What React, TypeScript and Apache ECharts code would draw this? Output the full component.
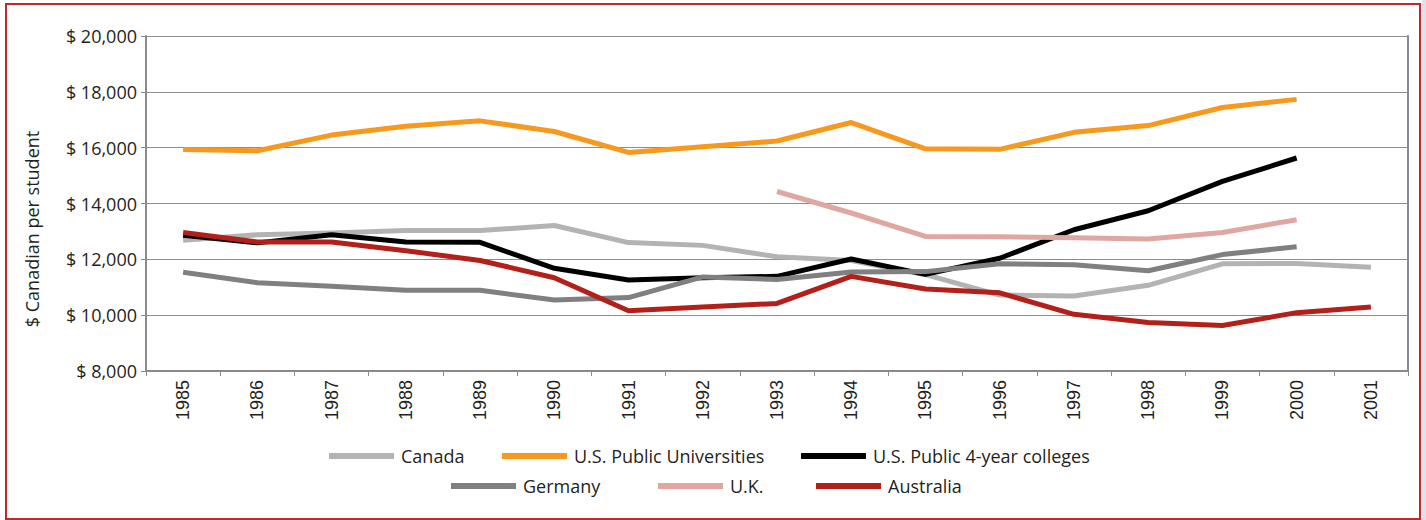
import React, { useEffect, useRef } from "react";
import * as echarts from "echarts";

const years = ["1985","1986","1987","1988","1989","1990","1991","1992","1993","1994","1995","1996","1997","1998","1999","2000","2001"];
const yTicks = [8000, 10000, 12000, 14000, 16000, 18000, 20000];
const yTitle = "$ Canadian per student";

const canada = [12680, 12880, 12940, 13030, 13030, 13210, 12600, 12500, 12090, 11960, 11450, 10720, 10690, 11070, 11840, 11850, 11720];
const usUniversities = [15930, 15890, 16450, 16770, 16960, 16580, 15830, 16030, 16240, 16900, 15960, 15940, 16550, 16790, 17440, 17730, null];
const us4Year = [12860, 12590, 12880, 12620, 12610, 11680, 11260, 11340, 11390, 12010, 11460, 12040, 13060, 13740, 14790, 15630, null];
const germany = [11540, 11160, 11040, 10890, 10890, 10540, 10630, 11370, 11280, 11550, 11560, 11840, 11810, 11590, 12170, 12450, null];
const uk = [null, null, null, null, null, null, null, null, 14430, 13660, 12820, 12810, 12770, 12730, 12960, 13420, null];
const australia = [12960, 12620, 12620, 12310, 11960, 11340, 10160, 10290, 10420, 11390, 10940, 10800, 10030, 9740, 9630, 10090, 10290];

const seriesNames = ["Canada", "U.S. Public Universities", "U.S. Public 4-year colleges", "Germany", "U.K.", "Australia"];
const seriesData = [canada, usUniversities, us4Year, germany, uk, australia];
const seriesColors = ["#b3b3b3", "#f7981f", "#000000", "#808080", "#e0a7a2", "#b3201a"];

const legendPos = [
  { left: 329, top: 447 },
  { left: 502, top: 447 },
  { left: 801, top: 447 },
  { left: 451, top: 477 },
  { left: 658, top: 477 },
  { left: 816, top: 477 },
];

export default function App() {
  const ref = useRef<HTMLDivElement>(null);
  useEffect(() => {
    if (!ref.current) return;
    const chart = echarts.init(ref.current, null, { renderer: "svg" });
    const axisColor = "#8a8a8a";
    const textColor = "#231f20";
    chart.setOption({
      animation: false,
      backgroundColor: "#ffffff",
      grid: { left: 146, right: 18, top: 36, bottom: 149, containLabel: false },
      xAxis: {
        type: "category",
        data: years,
        boundaryGap: true,
        axisLine: { show: true, lineStyle: { color: axisColor, width: 2 } },
        axisTick: { show: true, length: 5, lineStyle: { color: axisColor, width: 1 } },
        axisLabel: {
          rotate: 90,
          margin: 9,
          fontFamily: "Liberation Sans, Arial, sans-serif",
          fontSize: 18,
          color: textColor,
        },
        splitLine: { show: false },
      },
      yAxis: [
        {
          type: "value",
          min: yTicks[0],
          max: yTicks[yTicks.length - 1],
          interval: yTicks[1] - yTicks[0],
          axisLine: { show: true, lineStyle: { color: axisColor, width: 2 } },
          axisTick: { show: true, length: 5, lineStyle: { color: axisColor, width: 1 } },
          axisLabel: {
            margin: 9,
            fontFamily: "Open Sans",
            fontSize: 18,
            color: textColor,
            formatter: (v: number) => "$ " + v.toLocaleString("en-US"),
          },
          splitLine: { show: true, lineStyle: { color: "#8c8c8c", width: 1 } },
        },
        {
          type: "value",
          position: "right",
          min: yTicks[0],
          max: yTicks[yTicks.length - 1],
          interval: yTicks[1] - yTicks[0],
          axisLine: { show: true, lineStyle: { color: axisColor, width: 2 } },
          axisTick: { show: false },
          axisLabel: { show: false },
          splitLine: { show: false },
        },
      ],
      legend: seriesNames.map((name, i) => ({
        data: [name],
        left: legendPos[i].left,
        top: legendPos[i].top,
        padding: 0,
        itemWidth: 65,
        itemHeight: 6,
        icon: "rect",
        selectedMode: false,
        textStyle: {
          fontFamily: "Open Sans",
          fontSize: 18,
          color: textColor,
          padding: [0, 0, 0, 2],
        },
      })),
      series: seriesNames.map((name, i) => ({
        name,
        type: "line",
        data: seriesData[i],
        color: seriesColors[i],
        symbol: "none",
        showSymbol: false,
        connectNulls: false,
        lineStyle: { color: seriesColors[i], width: 5, join: "round" },
        itemStyle: { color: seriesColors[i] },
        z: 2 + i,
      })),
      graphic: [
        {
          type: "rect",
          left: 1422,
          top: 0,
          shape: { width: 4, height: 520 },
          style: { fill: "#dfe2e6" },
          silent: true,
        },
        {
          type: "rect",
          shape: { x: 6, y: 4, width: 1414, height: 515 },
          style: { fill: "none", stroke: "#c1272d", lineWidth: 2 },
          silent: true,
          z: 100,
        },
        {
          type: "text",
          x: 32,
          y: 229,
          rotation: Math.PI / 2,
          style: {
            text: yTitle,
            fontFamily: "Open Sans",
            fontSize: 18,
            fill: textColor,
            align: "center",
            verticalAlign: "middle",
          },
          silent: true,
        },
      ],
    });
    return () => chart.dispose();
  }, []);
  return (
    <div
      ref={ref}
      style={{ position: "fixed", left: 0, top: 0, width: 1426, height: 520, background: "#fff" }}
    />
  );
}
